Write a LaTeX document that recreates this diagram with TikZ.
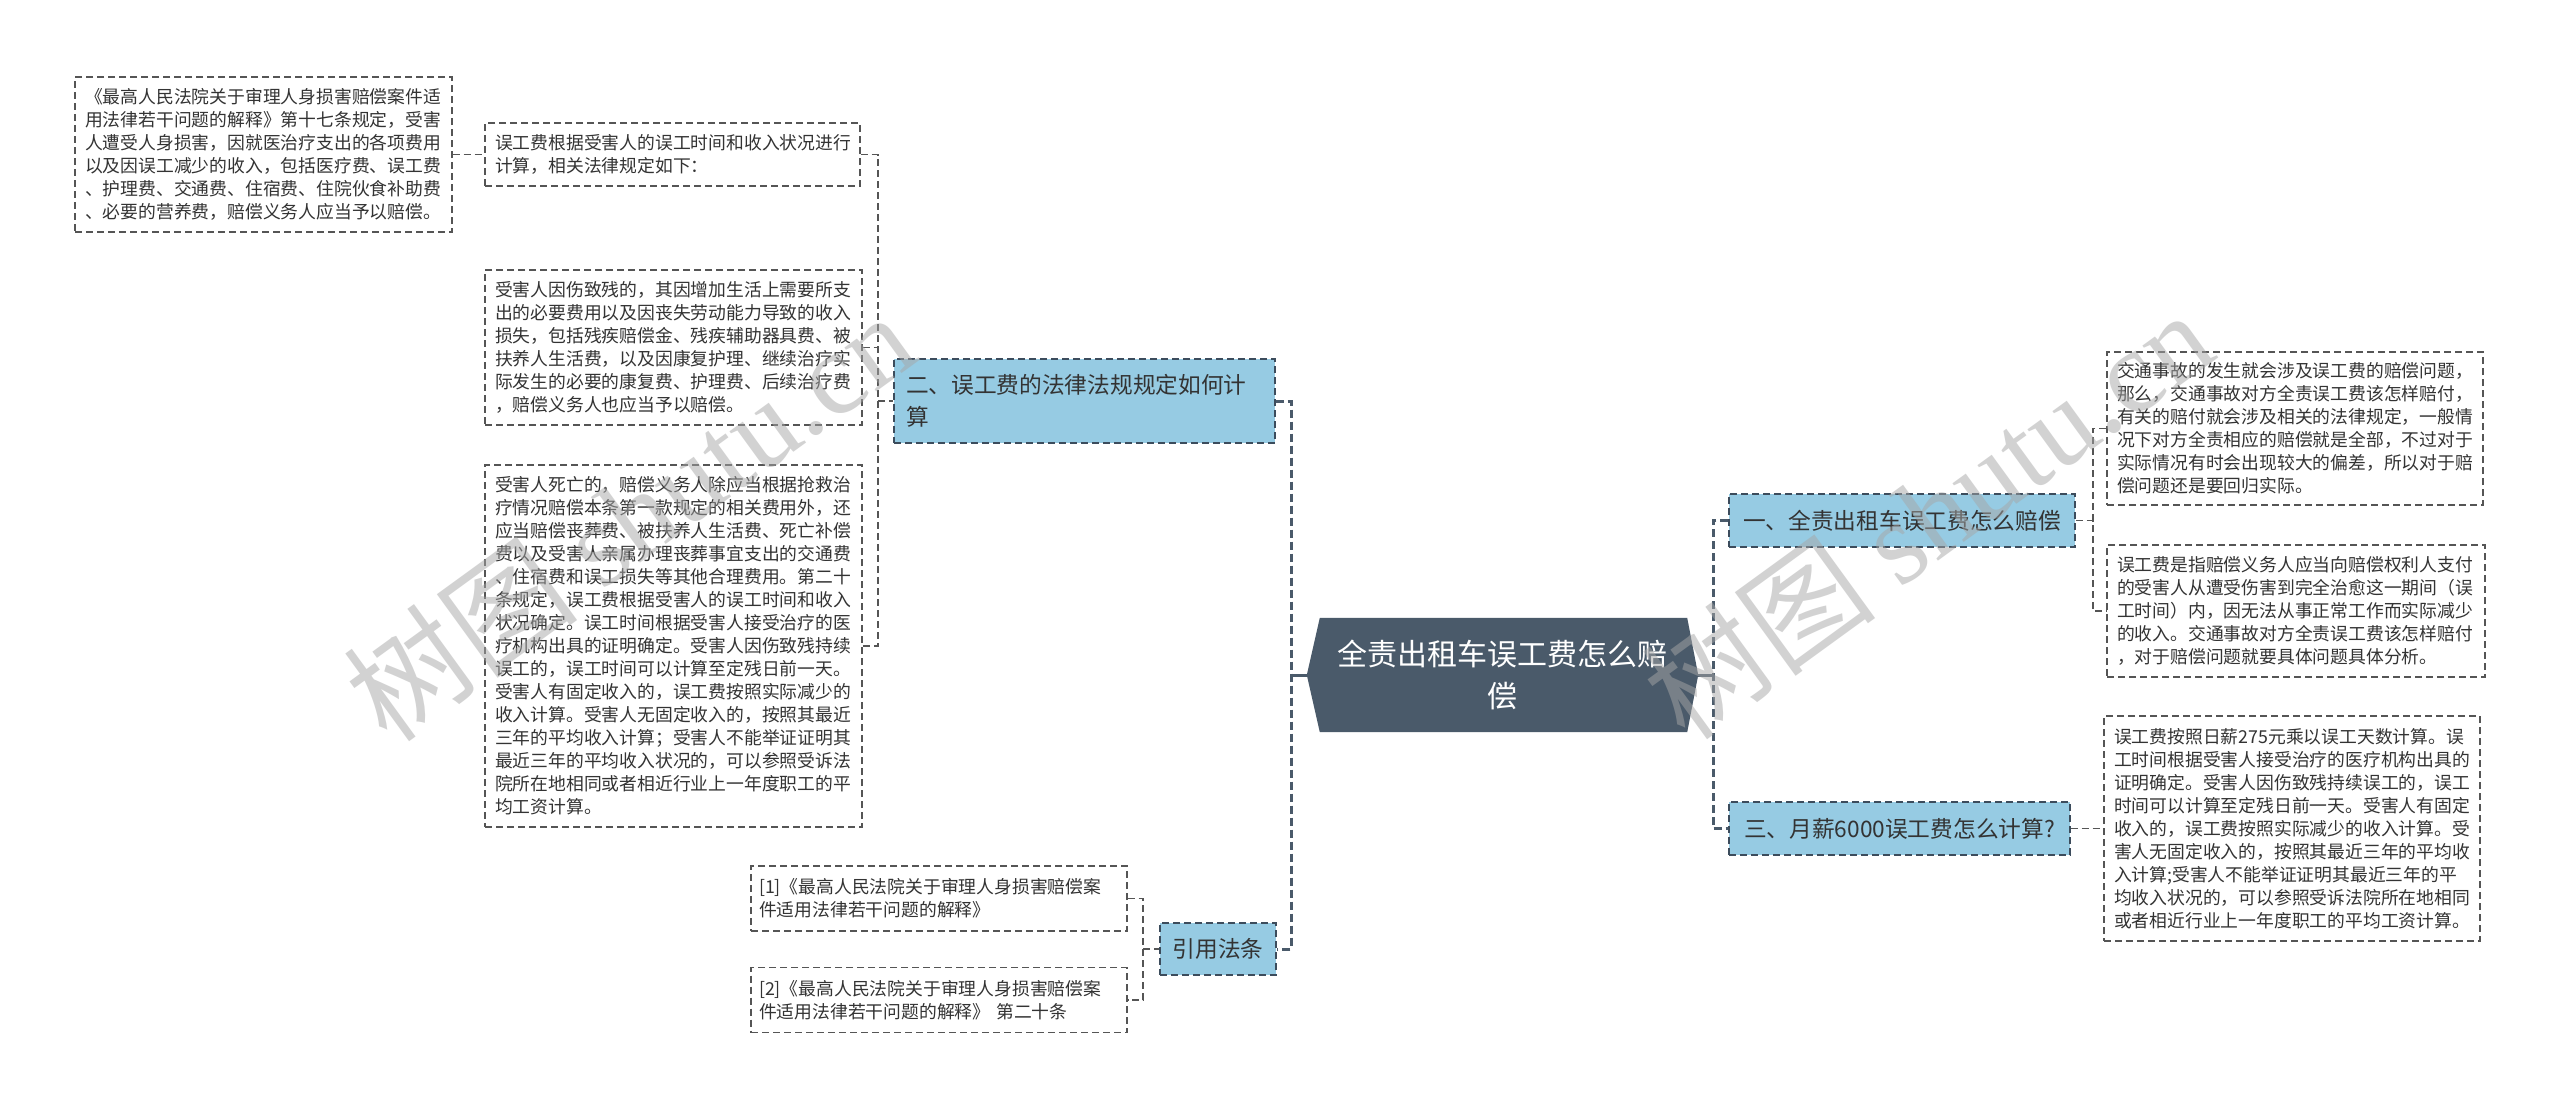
\documentclass[tikz,border=0pt]{standalone}
\usepackage{fontspec}
\setmainfont{Noto Sans CJK SC}
\newfontfamily\wmserif{Liberation Serif}
\usetikzlibrary{backgrounds}
\definecolor{cfill}{HTML}{4A5A6A}
\definecolor{bfill}{HTML}{96CBE3}
\definecolor{bdraw}{HTML}{3C4C5C}
\definecolor{ldraw}{HTML}{555555}
\definecolor{ltext}{HTML}{333333}
\definecolor{connc}{HTML}{4A5A6A}
\begin{document}
\begin{tikzpicture}[x=1pt,y=-1pt,
  dsh/.style={dash pattern=on 7pt off 4pt},
  leaf/.style={draw=ldraw, line width=1.4pt, dsh, fill=white, align=left, text=ltext,
    inner xsep=10pt, inner ysep=0pt, font=\fontsize{17.8pt}{23pt}\selectfont},
  bluebox/.style={draw=bdraw, line width=1.4pt, dsh, fill=bfill, text=ltext,
    inner xsep=12pt, inner ysep=0pt, font=\fontsize{22.7pt}{32pt}\selectfont},
  centerbox/.style={shape=rectangle, inner sep=0pt, minimum width=391pt, minimum height=114pt,
    align=center, text=white, font=\fontsize{30pt}{42pt}\selectfont},
  mainline/.style={draw=connc, line width=3pt, dash pattern=on 8pt off 4pt},
  centerline/.style={draw=connc, line width=3pt},
  subline/.style={draw=ldraw, line width=1.4pt, dsh},
  wm/.style={text=gray!70, text opacity=0.5, font=\fontsize{118pt}{120pt}\selectfont, inner sep=0pt}
]
\useasboundingbox (0,0) rectangle (2560,1109);

% central topic
\node[centerbox] (c) at (1502.5,675) {全责出租车误工费怎么赔\\偿};

% main branches
\node[bluebox, align=left, text width=357pt, minimum height=84pt] (b2) at (1084.5,401)
  {二、误工费的法律法规规定如何计\\算};
\node[bluebox, align=center, inner xsep=6pt, minimum width=116pt, minimum height=52pt] (b4) at (1218,949) {引用法条};
\node[bluebox, align=center, minimum width=346pt, minimum height=53pt] (b1) at (1902,520.5) {一、全责出租车误工费怎么赔偿};
\node[bluebox, align=center, minimum width=341pt, minimum height=53pt] (b3) at (1899.5,828.5) {三、月薪6000误工费怎么计算?};

% leaves
\node[leaf, text width=357pt, minimum height=155pt] (L1) at (263.5,154.5)
  {《最高人民法院关于审理人身损害赔偿案件适\\
   用法律若干问题的解释》第十七条规定，受害\\
   人遭受人身损害，因就医治疗支出的各项费用\\
   以及因误工减少的收入，包括医疗费、误工费\\
   、护理费、交通费、住宿费、住院伙食补助费\\
   、必要的营养费，赔偿义务人应当予以赔偿。};
\node[leaf, text width=355pt, minimum height=63pt] (L2) at (672.5,154.5)
  {误工费根据受害人的误工时间和收入状况进行\\
   计算，相关法律规定如下：};
\node[leaf, text width=357pt, minimum height=155pt] (L3) at (673.5,347.5)
  {受害人因伤致残的，其因增加生活上需要所支\\
   出的必要费用以及因丧失劳动能力导致的收入\\
   损失，包括残疾赔偿金、残疾辅助器具费、被\\
   扶养人生活费，以及因康复护理、继续治疗实\\
   际发生的必要的康复费、护理费、后续治疗费\\
   ，赔偿义务人也应当予以赔偿。};
\node[leaf, text width=357pt, minimum height=362pt] (L4) at (673.5,646)
  {受害人死亡的，赔偿义务人除应当根据抢救治\\
   疗情况赔偿本条第一款规定的相关费用外，还\\
   应当赔偿丧葬费、被扶养人生活费、死亡补偿\\
   费以及受害人亲属办理丧葬事宜支出的交通费\\
   、住宿费和误工损失等其他合理费用。第二十\\
   条规定，误工费根据受害人的误工时间和收入\\
   状况确定。误工时间根据受害人接受治疗的医\\
   疗机构出具的证明确定。受害人因伤致残持续\\
   误工的，误工时间可以计算至定残日前一天。\\
   受害人有固定收入的，误工费按照实际减少的\\
   收入计算。受害人无固定收入的，按照其最近\\
   三年的平均收入计算；受害人不能举证证明其\\
   最近三年的平均收入状况的，可以参照受诉法\\
   院所在地相同或者相近行业上一年度职工的平\\
   均工资计算。};
\node[leaf, inner xsep=8pt, text width=360pt, minimum height=65pt] (f1) at (939,898.5)
  {[1]《最高人民法院关于审理人身损害赔偿案\\
   件适用法律若干问题的解释》};
\node[leaf, inner xsep=8pt, text width=360pt, minimum height=65pt] (f2) at (939,1000)
  {[2]《最高人民法院关于审理人身损害赔偿案\\
   件适用法律若干问题的解释》 第二十条};
\node[leaf, text width=356pt, minimum height=153pt] (R1) at (2295,428.5)
  {交通事故的发生就会涉及误工费的赔偿问题，\\
   那么，交通事故对方全责误工费该怎样赔付，\\
   有关的赔付就会涉及相关的法律规定，一般情\\
   况下对方全责相应的赔偿就是全部，不过对于\\
   实际情况有时会出现较大的偏差，所以对于赔\\
   偿问题还是要回归实际。};
\node[leaf, text width=358pt, minimum height=132pt] (R2) at (2296,611)
  {误工费是指赔偿义务人应当向赔偿权利人支付\\
   的受害人从遭受伤害到完全治愈这一期间（误\\
   工时间）内，因无法从事正常工作而实际减少\\
   的收入。交通事故对方全责误工费该怎样赔付\\
   ，对于赔偿问题就要具体问题具体分析。};
\node[leaf, text width=356pt, minimum height=225pt] (R3) at (2292,828.5)
  {误工费按照日薪275元乘以误工天数计算。误\\
   工时间根据受害人接受治疗的医疗机构出具的\\
   证明确定。受害人因伤致残持续误工的，误工\\
   时间可以计算至定残日前一天。受害人有固定\\
   收入的，误工费按照实际减少的收入计算。受\\
   害人无固定收入的，按照其最近三年的平均收\\
   入计算;受害人不能举证证明其最近三年的平\\
   均收入状况的，可以参照受诉法院所在地相同\\
   或者相近行业上一年度职工的平均工资计算。};

% background and central hexagon
\begin{pgfonlayer}{background}
  \fill[white] (0,0) rectangle (2560,1109);
  \fill[cfill] ([xshift=13pt]c.north west) -- ([xshift=-11pt]c.north east) -- (c.east)
    -- ([xshift=-11pt]c.south east) -- ([xshift=13pt]c.south west) -- (c.west) -- cycle;
\end{pgfonlayer}

% junctions
\coordinate (jL) at (1291,675);
\coordinate (jR) at (1713,675);
\coordinate (j2) at (878,401);
\coordinate (j4) at (1143,949);
\coordinate (jr) at (2093,520.5);

% main connectors
\draw[mainline] (b2.east) -| (jL) |- (b4.east);
\draw[centerline] (c.west) -- (jL);
\draw[mainline] (b1.west) -| (jR) |- (b3.west);
\draw[centerline] (c.east) -- (jR);

% sub connectors
\draw[subline] (L2.east) -| (j2) |- (L4.east);
\draw[subline] (L3.east) -- (L3.east -| j2);
\draw[subline] (j2) -- (b2.west);
\draw[subline] (L1.east) -- (L2.west);
\draw[subline] (f1.east) -| (j4) |- (f2.east);
\draw[subline] (j4) -- (b4.west);
\draw[subline] (R1.west) -| (jr) |- (R2.west);
\draw[subline] (b1.east) -- (jr);
\draw[subline] (b3.east) -- (R3.west);

% watermarks
\node[wm, rotate=36] (w1) at (629,516) {树图 {\wmserif shutu.cn}};
\node[wm, rotate=36] (w2) at (1927,514) {树图 {\wmserif shutu.cn}};
\end{tikzpicture}
\end{document}
